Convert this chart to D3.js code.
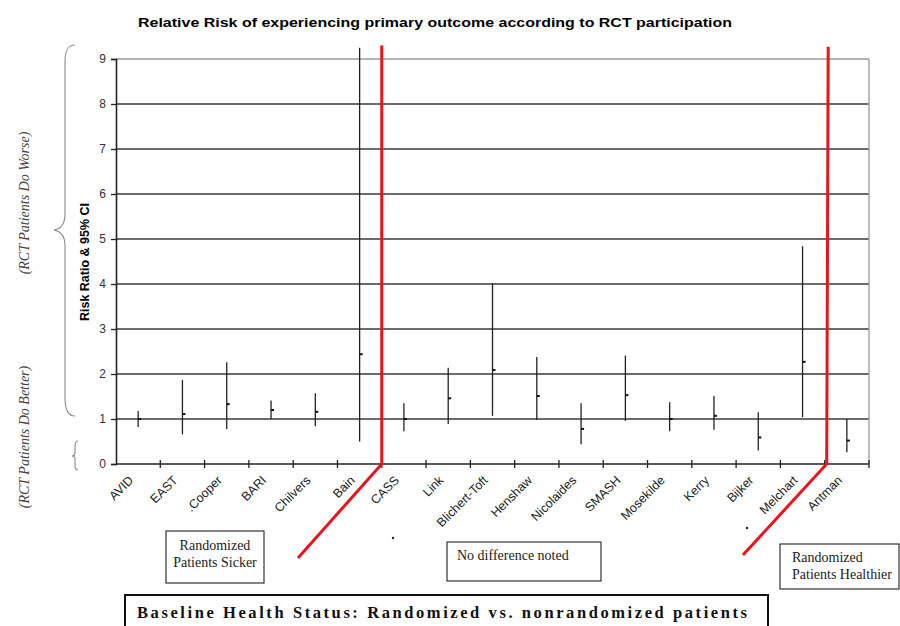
<!DOCTYPE html>
<html>
<head>
<meta charset="utf-8">
<script src="https://cdn.jsdelivr.net/npm/d3@7"></script>
<style>
  body { margin: 0; background: #fff; }
</style>
</head>
<body>
<div id="viz"></div>
<script>
// data
var studies = ["AVID", "EAST", "Cooper", "BARI", "Chilvers", "Bain", "CASS", "Link",
               "Blichert-Toft", "Henshaw", "Nicolaides", "SMASH", "Mosekilde", "Kerry",
               "Bijker", "Melchart", "Antman"];
var studyLabels = ["AVID", "EAST", ".Cooper", "BARI", "Chilvers", "Bain", "CASS", "Link",
                   "Blichert-Toft", "Henshaw", "Nicolaides", "SMASH", "Mosekilde", "Kerry",
                   "Bijker", "Melchart", "Antman"];
var riskRatio = [1.00, 1.11, 1.33, 1.20, 1.16, 2.44, 1.00, 1.46, 2.09, 1.51, 0.78, 1.53, 1.00, 1.07, 0.59, 2.27, 0.52];
var ciLow     = [0.82, 0.66, 0.78, 1.00, 0.84, 0.50, 0.73, 0.89, 1.07, 0.98, 0.44, 0.96, 0.73, 0.76, 0.30, 1.04, 0.26];
var ciHigh    = [1.18, 1.87, 2.26, 1.41, 1.57, 9.25, 1.35, 2.14, 4.02, 2.38, 1.35, 2.41, 1.37, 1.51, 1.15, 4.84, 1.00];
var yTicks = [0, 1, 2, 3, 4, 5, 6, 7, 8, 9];

var title = "Relative Risk of  experiencing primary outcome according to RCT participation";
var yLabel = "Risk Ratio & 95% CI";
var footer = "Baseline Health Status: Randomized vs. nonrandomized patients";

var W = 900, H = 626;
var plotLeft = 116, plotRight = 869, plotTop = 59, plotBottom = 464;

var svg = d3.select("#viz").append("svg")
  .attr("width", W).attr("height", H)
  .style("font-family", "'Liberation Sans', Arial, sans-serif");

var x = d3.scaleBand().domain(studies).range([plotLeft, plotRight]).padding(0);
var y = d3.scaleLinear().domain([0, 9]).range([plotBottom, plotTop]);

// title
svg.append("text")
  .attr("x", 138).attr("y", 27)
  .attr("textLength", 594).attr("lengthAdjust", "spacingAndGlyphs")
  .style("font-weight", "bold").style("font-size", "13px")
  .text(title);

// gridlines
svg.append("g").selectAll("line")
  .data(yTicks.filter(function(d) { return d > 0; }))
  .join("line")
  .attr("x1", plotLeft).attr("x2", plotRight)
  .attr("y1", function(d) { return y(d); }).attr("y2", function(d) { return y(d); })
  .attr("stroke", function(d) { return d === 9 ? "#9a9a9a" : "#3a3a3a"; })
  .attr("stroke-width", 1.3);

// right border
svg.append("line")
  .attr("x1", plotRight).attr("x2", plotRight).attr("y1", y(9)).attr("y2", y(0))
  .attr("stroke", "#9a9a9a").attr("stroke-width", 1.3);

// y axis
var yAxis = svg.append("g")
  .attr("transform", "translate(" + plotLeft + ",0)")
  .call(d3.axisLeft(y).tickValues(yTicks).tickSize(5).tickPadding(5).tickFormat(d3.format("d")));
yAxis.select(".domain").attr("stroke", "#222").attr("stroke-width", 1.6);
yAxis.selectAll(".tick line").attr("stroke", "#222").attr("stroke-width", 1.3);
yAxis.selectAll(".tick text")
  .style("font-family", "'Liberation Sans', Arial, sans-serif")
  .style("font-size", "12px").attr("fill", "#333");

// x axis: ticks on the category boundaries, crossing the line
var bounds = studies.map(function(s) { return x(s); }).concat([plotRight]);
svg.append("line")
  .attr("x1", plotLeft).attr("x2", plotRight).attr("y1", plotBottom).attr("y2", plotBottom)
  .attr("stroke", "#222").attr("stroke-width", 1.5);
svg.append("g").selectAll("line")
  .data(bounds.slice(1))
  .join("line")
  .attr("x1", function(d) { return d; }).attr("x2", function(d) { return d; })
  .attr("y1", plotBottom - 4).attr("y2", plotBottom + 4)
  .attr("stroke", "#222").attr("stroke-width", 1.3);

svg.append("g").selectAll("text")
  .data(studies)
  .join("text")
  .attr("transform", function(d) {
    return "translate(" + (x(d) + x.bandwidth() / 2 - 4) + "," + 481 + ") rotate(-45)";
  })
  .attr("text-anchor", "end")
  .style("font-size", "12.5px")
  .attr("fill", "#222")
  .text(function(d, i) { return studyLabels[i]; });

// y label
svg.append("text")
  .attr("transform", "translate(89," + 262 + ") rotate(-90)")
  .attr("text-anchor", "middle")
  .style("font-weight", "bold").style("font-size", "12.5px")
  .text(yLabel);

// confidence intervals
var cx = function(i) { return x(studies[i]) + x.bandwidth() / 2; };
svg.append("g").selectAll("line")
  .data(studies)
  .join("line")
  .attr("x1", function(d, i) { return cx(i); }).attr("x2", function(d, i) { return cx(i); })
  .attr("y1", function(d, i) { return y(ciLow[i]); })
  .attr("y2", function(d, i) { return y(ciHigh[i]); })
  .attr("stroke", "#222").attr("stroke-width", 1.3);

// point estimates (small dashes)
svg.append("g").selectAll("line")
  .data(studies)
  .join("line")
  .attr("x1", function(d, i) { return cx(i); }).attr("x2", function(d, i) { return cx(i) + 3; })
  .attr("y1", function(d, i) { return y(riskRatio[i]); })
  .attr("y2", function(d, i) { return y(riskRatio[i]); })
  .attr("stroke", "#111").attr("stroke-width", 2);

// red separators
var separators = [
  { before: "CASS", top: 9.3, dxTop: 0, dxBottom: 0, end: [298, 558] },
  { before: "Antman", top: 9.27, dxTop: 3.5, dxBottom: 2, end: [743, 555] }
];
var redLine = d3.line();
separators.forEach(function(s) {
  svg.append("path")
    .attr("d", redLine([
      [x(s.before) + s.dxTop, y(s.top)],
      [x(s.before) + s.dxBottom, y(0)],
      s.end
    ]))
    .attr("fill", "none")
    .attr("stroke", "#e8141b")
    .attr("stroke-width", 3);
});

// braces on the left
svg.append("path")
  .attr("d", "M75,45 C68,45 65,50 65,62 L65,214 C65,225 60,229 54,230 C60,231 65,235 65,246 L65,398 C65,410 68,416 75,416")
  .attr("fill", "none").attr("stroke", "#8a8a8a").attr("stroke-width", 1.1);
svg.append("path")
  .attr("d", "M78,441 C76,441 75,443 75,446 L75,453 C75,455 74,456 72,456 C74,456 75,457 75,459 L75,466 C75,469 76,470 78,470")
  .attr("fill", "none").attr("stroke", "#8a8a8a").attr("stroke-width", 1.1);

var sideLabels = [
  { text: "(RCT Patients Do Worse)", cy: 203 },
  { text: "(RCT Patients Do Better)", cy: 437 }
];
svg.append("g").selectAll("text")
  .data(sideLabels)
  .join("text")
  .attr("transform", function(d) { return "translate(29," + d.cy + ") rotate(-90)"; })
  .attr("text-anchor", "middle")
  .style("font-family", "'Liberation Serif', 'Times New Roman', serif")
  .style("font-style", "italic").style("font-size", "14px")
  .attr("fill", "#444")
  .text(function(d) { return d.text; });

// stray dots from the original
[[393, 538], [747, 528]].forEach(function(p) {
  svg.append("circle").attr("cx", p[0]).attr("cy", p[1]).attr("r", 1.2).attr("fill", "#222");
});

// note boxes
var notes = [
  { lines: ["Randomized", "Patients Sicker"], x0: 166, y0: 531, x1: 264, y1: 583, anchor: "middle", tx: 215, ty: [550, 567] },
  { lines: ["No difference noted"], x0: 447, y0: 542, x1: 601, y1: 581, anchor: "start", tx: 457, ty: [560] },
  { lines: ["Randomized", "Patients Healthier"], x0: 780, y0: 544, x1: 899, y1: 589, anchor: "start", tx: 792, ty: [562, 579] }
];
notes.forEach(function(n) {
  svg.append("rect")
    .attr("x", n.x0).attr("y", n.y0)
    .attr("width", n.x1 - n.x0).attr("height", n.y1 - n.y0)
    .attr("fill", "#fff").attr("stroke", "#333").attr("stroke-width", 1.2);
  n.lines.forEach(function(l, i) {
    svg.append("text")
      .attr("x", n.tx).attr("y", n.ty[i])
      .attr("text-anchor", n.anchor)
      .style("font-family", "'Liberation Serif', 'Times New Roman', serif")
      .style("font-size", "14px")
      .attr("fill", "#222")
      .text(l);
  });
});

// footer box
svg.append("rect")
  .attr("x", 125).attr("y", 595).attr("width", 643).attr("height", 40)
  .attr("fill", "#fff").attr("stroke", "#111").attr("stroke-width", 2);
svg.append("text")
  .attr("x", 137).attr("y", 618)
  .attr("textLength", 610).attr("lengthAdjust", "spacing")
  .style("font-family", "'Liberation Serif', 'Times New Roman', serif")
  .style("font-weight", "bold").style("font-size", "16.5px")
  .attr("fill", "#111")
  .text(footer);
</script>
</body>
</html>
